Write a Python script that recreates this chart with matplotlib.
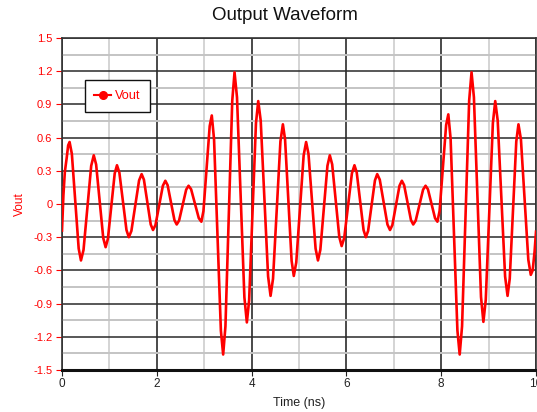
import matplotlib
matplotlib.use("Agg")
import matplotlib.pyplot as plt
from matplotlib.ticker import MultipleLocator

plt.rcParams['font.family'] = ['Liberation Sans', 'DejaVu Sans']

time_ns = [
    0.00, 0.03, 0.06, 0.10, 0.13, 0.16,
    0.208, 0.28, 0.352, 0.40,
    0.454, 0.535, 0.616, 0.67,
    0.72, 0.795, 0.87, 0.92,
    0.968, 1.04, 1.112, 1.16,
    1.21, 1.285, 1.36, 1.41,
    1.464, 1.545, 1.626, 1.68,
    1.728, 1.80, 1.872, 1.92,
    1.972, 2.05, 2.128, 2.18,
    2.228, 2.30, 2.372, 2.42,
    2.47, 2.545, 2.62, 2.67,
    2.724, 2.805, 2.886, 2.94,
    2.984, 3.05, 3.116, 3.16,
    3.208, 3.28, 3.352, 3.40,
    3.448, 3.52, 3.592, 3.64,
    3.692, 3.77, 3.848, 3.90,
    3.948, 4.02, 4.092, 4.14,
    4.192, 4.27, 4.348, 4.40,
    4.452, 4.53, 4.608, 4.66,
    4.706, 4.775, 4.844, 4.89,
    4.942, 5.02, 5.098, 5.15,
    5.20, 5.275, 5.35, 5.40,
    5.45, 5.525, 5.60, 5.65,
    5.70, 5.775, 5.85, 5.90,
    5.954, 6.035, 6.116, 6.17,
    6.218, 6.29, 6.362, 6.41,
    6.458, 6.53, 6.602, 6.65,
    6.704, 6.785, 6.866, 6.92,
    6.97, 7.045, 7.12, 7.17,
    7.218, 7.29, 7.362, 7.41,
    7.462, 7.54, 7.618, 7.67,
    7.72, 7.795, 7.87, 7.92,
    7.966, 8.035, 8.104, 8.15,
    8.198, 8.27, 8.342, 8.39,
    8.44, 8.515, 8.59, 8.64,
    8.69, 8.765, 8.84, 8.89,
    8.94, 9.015, 9.09, 9.14,
    9.192, 9.27, 9.348, 9.40,
    9.446, 9.515, 9.584, 9.63,
    9.682, 9.76, 9.838, 9.89,
    9.93, 9.97, 10.00,
]
vout = [
    -0.24, 0.08, 0.29, 0.42, 0.53, 0.56,
    0.453, 0.025, -0.403, -0.51,
    -0.415, -0.035, 0.345, 0.44,
    0.357, 0.025, -0.307, -0.39,
    -0.316, -0.02, 0.276, 0.35,
    0.285, 0.025, -0.235, -0.30,
    -0.243, -0.015, 0.213, 0.27,
    0.22, 0.018, -0.185, -0.235,
    -0.19, -0.013, 0.165, 0.21,
    0.17, 0.013, -0.145, -0.185,
    -0.15, -0.01, 0.13, 0.165,
    0.133, 0.003, -0.128, -0.16,
    -0.064, 0.32, 0.704, 0.80,
    0.584, -0.28, -1.144, -1.36,
    -1.105, -0.085, 0.935, 1.19,
    0.964, 0.06, -0.844, -1.07,
    -0.87, -0.07, 0.73, 0.93,
    0.754, 0.05, -0.654, -0.83,
    -0.675, -0.055, 0.565, 0.72,
    0.583, 0.035, -0.513, -0.65,
    -0.529, -0.045, 0.439, 0.56,
    0.453, 0.025, -0.403, -0.51,
    -0.415, -0.035, 0.345, 0.44,
    0.358, 0.03, -0.298, -0.38,
    -0.307, -0.015, 0.277, 0.35,
    0.285, 0.025, -0.235, -0.30,
    -0.243, -0.015, 0.213, 0.27,
    0.22, 0.018, -0.185, -0.235,
    -0.19, -0.013, 0.165, 0.21,
    0.17, 0.013, -0.145, -0.185,
    -0.15, -0.01, 0.13, 0.165,
    0.133, 0.003, -0.128, -0.16,
    -0.063, 0.325, 0.713, 0.81,
    0.593, -0.275, -1.143, -1.36,
    -1.105, -0.085, 0.935, 1.19,
    0.965, 0.063, -0.84, -1.065,
    -0.866, -0.068, 0.73, 0.93,
    0.754, 0.05, -0.654, -0.83,
    -0.675, -0.055, 0.565, 0.72,
    0.584, 0.04, -0.504, -0.64,
    -0.60, -0.43, -0.25,
]

x_ticks = [0, 2, 4, 6, 8, 10]
y_ticks = [-1.5, -1.2, -0.9, -0.6, -0.3, 0, 0.3, 0.6, 0.9, 1.2, 1.5]
y_tick_labels = ['-1.5', '-1.2', '-0.9', '-0.6', '-0.3', '0', '0.3', '0.6', '0.9', '1.2', '1.5']
series_name = 'Vout'

W, H = 537, 412
fig = plt.figure(figsize=(W / 100, H / 100), dpi=100)
ax = fig.add_axes([62 / W, 1 - 370 / H, (536 - 62) / W, (370 - 38) / H])

red = '#ff0000'
ax.plot(time_ns, vout, color=red, lw=1.9, solid_joinstyle='round', zorder=5)

ax.set_xlim(0, 10)
ax.set_ylim(-1.5, 1.5)
ax.set_xticks(x_ticks)
ax.set_yticks(y_ticks)
ax.set_yticklabels(y_tick_labels)
ax.xaxis.set_minor_locator(MultipleLocator(1))
ax.yaxis.set_minor_locator(MultipleLocator(0.15))

# grid
ax.grid(which='major', axis='y', color='#2a2a2a', lw=1.1, zorder=1)
ax.grid(which='minor', axis='y', color='#c4c4c4', lw=1.4, zorder=0.8)
ax.grid(which='major', axis='x', color='#4a4a4a', lw=1.4, zorder=1)
ax.grid(which='minor', axis='x', color='#d4d4d4', lw=1.4, zorder=0.8)
ax.set_axisbelow(True)

ax.tick_params(axis='y', which='major', colors=red, labelcolor=red, labelsize=8,
               length=4, direction='out', pad=3)
ax.tick_params(axis='x', which='major', colors='#222222', labelcolor='#222222',
               labelsize=8.5, length=4, direction='out', pad=2)
ax.tick_params(which='minor', length=0)

for s in ['left', 'top', 'right']:
    ax.spines[s].set_color('#333333')
    ax.spines[s].set_linewidth(1.2)
ax.spines['bottom'].set_color('#111111')
ax.spines['bottom'].set_linewidth(2.2)

ax.set_xlabel('Time (ns)', fontsize=9, color='#222222', labelpad=5)
ax.set_ylabel('Vout', fontsize=8.5, color=red, labelpad=5)

fig.text(285 / W, 1 - 16 / H, 'Output Waveform', fontsize=13.5, ha='center', va='center', color='#111111')

# legend with line + circle marker
h, = ax.plot([], [], color=red, lw=1.5, marker='o', markersize=5.5, label=series_name)
leg = ax.legend(handles=[h], loc='upper left', bbox_to_anchor=(0.048, 0.872),
                borderaxespad=0, fontsize=9.2, labelcolor=red, fancybox=False,
                frameon=True, handlelength=1.3, handletextpad=0.3,
                borderpad=0.75)
leg.get_frame().set_edgecolor('#111111')
leg.get_frame().set_linewidth(1.0)
leg.get_frame().set_facecolor('white')
leg.get_frame().set_alpha(1)

fig.savefig('out.png', dpi=100)
